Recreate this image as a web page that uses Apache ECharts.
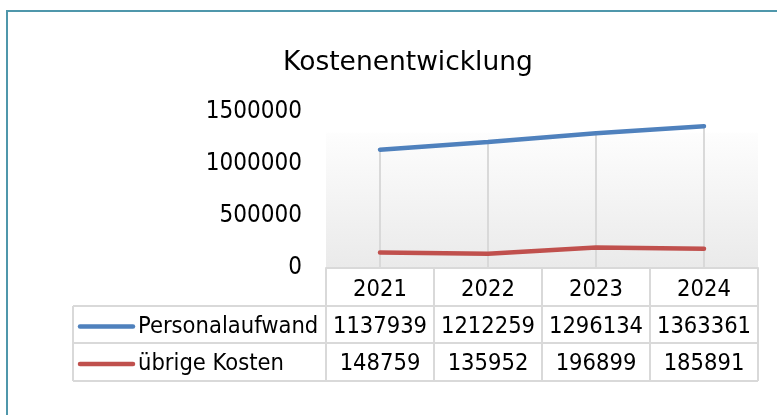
<!DOCTYPE html>
<html>
<head>
<meta charset="utf-8">
<script src="https://cdn.jsdelivr.net/npm/echarts@6/dist/echarts.min.js"></script>
<style>
	html, body { margin: 0; padding: 0; background: #fff; }
	#chart { width: 777px; height: 415px; }
</style>
</head>
<body>
<div id="chart"></div>
<script>
// Daten
var jahre = ["2021", "2022", "2023", "2024"];
var personalaufwand = [1137939, 1212259, 1296134, 1363361];
var uebrigeKosten = [148759, 135952, 196899, 185891];
var reihenNamen = ["Personalaufwand", "übrige Kosten"];
var reihenFarben = ["#4f81bd", "#c0504d"];
var yTicks = { min: 0, max: 1500000, interval: 500000 };

var schrift = "'DejaVu Sans Condensed', 'DejaVu Sans', sans-serif";

var myChart = echarts.init(document.getElementById("chart"));

var option = {
	animation: false,
	backgroundColor: "#fff",
	title: {
		text: "Kostenentwicklung",
		left: 403,
		top: 45,
		textAlign: "center",
		textStyle: {
			color: "#000",
			fontFamily: "'DejaVu Sans', sans-serif",
			fontSize: 26.5,
			fontWeight: "normal"
		}
	},
	grid: {
		left: 326,
		right: 19,
		top: 112,
		bottom: 147,
		show: true,
		borderWidth: 0,
		backgroundColor: {
			type: "linear", x: 0, y: 0, x2: 0, y2: 1,
			colorStops: [
				{ offset: 0, color: "#ffffff" },
				{ offset: 0.13, color: "#ffffff" },
				{ offset: 0.14, color: "#fdfdfd" },
				{ offset: 1, color: "#eaeaea" }
			]
		}
	},
	xAxis: {
		type: "category",
		data: jahre,
		boundaryGap: true,
		axisLine: { show: true, lineStyle: { color: "#d9d9d9", width: 2 } },
		axisTick: { show: false },
		axisLabel: { show: false },
		splitLine: { show: false }
	},
	yAxis: {
		type: "value",
		min: yTicks.min,
		max: yTicks.max,
		interval: yTicks.interval,
		axisLine: { show: false },
		axisTick: { show: false },
		splitLine: { show: false },
		axisLabel: {
			color: "#000",
			fontFamily: schrift,
			fontSize: 24,
			margin: 24,
			formatter: function (v) { return String(v); }
		}
	},
	series: [
		{
			// Lotlinien vom hoechsten Punkt zur Achse
			type: "bar",
			data: personalaufwand,
			barWidth: 2,
			silent: true,
			z: 1,
			itemStyle: { color: "#d9d9d9" }
		},
		{
			name: reihenNamen[0],
			type: "line",
			data: personalaufwand,
			showSymbol: false,
			z: 3,
			lineStyle: { color: reihenFarben[0], width: 4.5, cap: "round" }
		},
		{
			name: reihenNamen[1],
			type: "line",
			data: uebrigeKosten,
			showSymbol: false,
			z: 3,
			lineStyle: { color: reihenFarben[1], width: 4.5, cap: "round" }
		}
	]
};
myChart.setOption(option);

// Datentabelle unter dem Diagramm
function datentabelle() {
	var yNull = myChart.convertToPixel({ yAxisIndex: 0 }, 0);
	var mitte = jahre.map(function (j, i) { return myChart.convertToPixel({ xAxisIndex: 0 }, i); });
	var band = mitte[1] - mitte[0];
	var links = mitte[0] - band / 2;
	var rechts = mitte[mitte.length - 1] + band / 2;
	var tabLinks = 73;
	var zeilen = [yNull, yNull + 38, yNull + 75, yNull + 113];
	var linie = { stroke: "#d9d9d9", lineWidth: 2 };
	var els = [];
	var txt = { fill: "#000", fontFamily: schrift, fontSize: 23.5 };

	// waagerechte Linien
	els.push({ type: "line", shape: { x1: links, y1: zeilen[0], x2: rechts, y2: zeilen[0] }, style: linie });
	for (var r = 1; r < zeilen.length; r++) {
		els.push({ type: "line", shape: { x1: tabLinks, y1: zeilen[r], x2: rechts, y2: zeilen[r] }, style: linie });
	}
	// senkrechte Linien
	els.push({ type: "line", shape: { x1: tabLinks, y1: zeilen[1], x2: tabLinks, y2: zeilen[3] }, style: linie });
	for (var c = 0; c <= jahre.length; c++) {
		var x = links + c * band;
		els.push({ type: "line", shape: { x1: x, y1: zeilen[0], x2: x, y2: zeilen[3] }, style: linie });
	}
	// Kopfzeile
	jahre.forEach(function (j, i) {
		els.push({ type: "text", x: mitte[i], y: (zeilen[0] + zeilen[1]) / 2 + 3,
			style: Object.assign({ text: j, align: "center", verticalAlign: "middle" }, txt) });
	});
	// Datenzeilen
	[personalaufwand, uebrigeKosten].forEach(function (werte, r) {
		var yM = (zeilen[r + 1] + zeilen[r + 2]) / 2 + 2;
		els.push({ type: "line", shape: { x1: 80, y1: yM, x2: 133, y2: yM },
			style: { stroke: reihenFarben[r], lineWidth: 4.5, lineCap: "round" } });
		els.push({ type: "text", x: 138, y: yM,
			style: Object.assign({ text: reihenNamen[r], align: "left", verticalAlign: "middle" }, txt) });
		werte.forEach(function (v, i) {
			els.push({ type: "text", x: mitte[i], y: yM,
				style: Object.assign({ text: String(v), align: "center", verticalAlign: "middle" }, txt) });
		});
	});
	// Rahmen
	els.push({ type: "rect", shape: { x: 7, y: 11, width: 820, height: 460 },
		style: { fill: "none", stroke: "#4f97ab", lineWidth: 2 }, z: 10 });

	myChart.setOption({ graphic: { elements: els } });
}
datentabelle();
</script>
</body>
</html>
